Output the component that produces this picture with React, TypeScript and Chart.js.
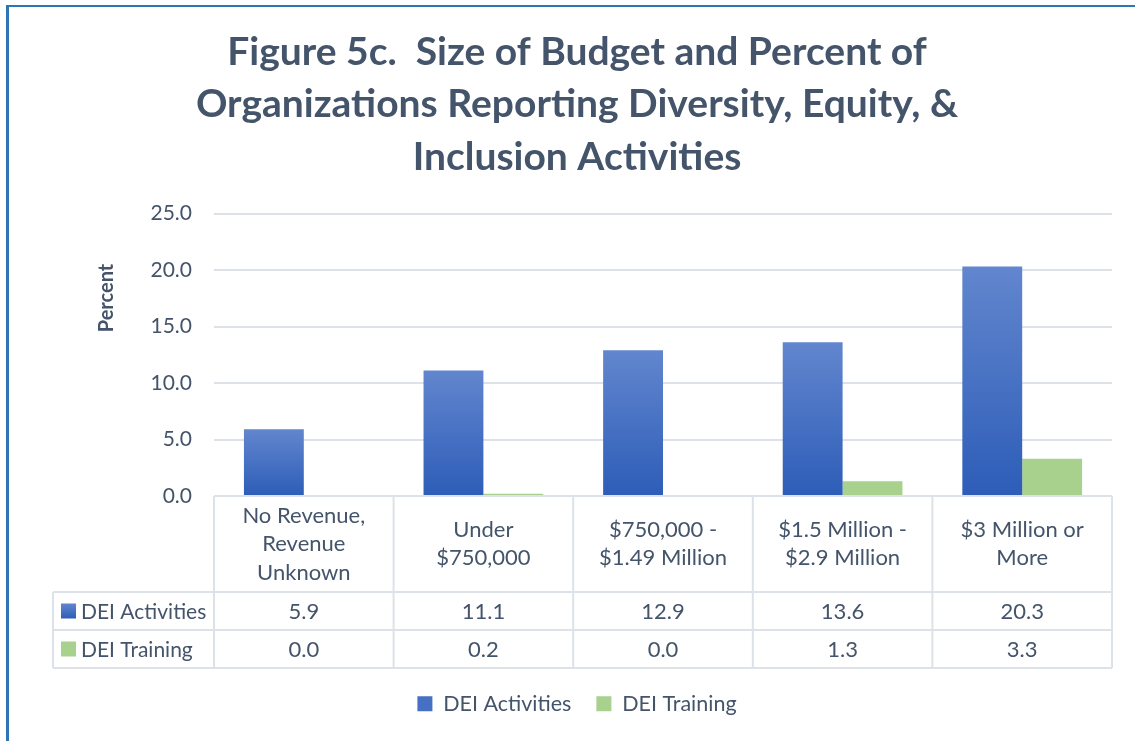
import React, { useEffect, useRef } from "react";
import { Chart, registerables } from "chart.js";

Chart.register(...registerables);

// ---- data ----
const titleLines: string[] = [
  "Figure 5c.  Size of Budget and Percent of",
  "Organizations Reporting Diversity, Equity, &",
  "Inclusion Activities",
];
const categories: string[][] = [
  ["No Revenue,", "Revenue", "Unknown"],
  ["Under", "$750,000"],
  ["$750,000 -", "$1.49 Million"],
  ["$1.5 Million -", "$2.9 Million"],
  ["$3 Million or", "More"],
];
const seriesNames: string[] = ["DEI Activities", "DEI Training"];
const deiActivities: number[] = [5.9, 11.1, 12.9, 13.6, 20.3];
const deiTraining: number[] = [0.0, 0.2, 0.0, 1.3, 3.3];
const yAxisTitle = "Percent";
const yMin = 0;
const yMax = 25;
const yStep = 5;

// ---- styles ----
const TEXT = "#44546A";
const LINE = "#DDE1E8";
const BLUE_TOP = "#6286CE";
const BLUE_BOT = "#2D5DB8";
const BLUE_SOLID = "#4570C4";
const GREEN = "#A9D18E";
const FONT = "Lato";

function blueGradient(ctx: CanvasRenderingContext2D, top: number, bottom: number) {
  const g = ctx.createLinearGradient(0, top, 0, bottom);
  g.addColorStop(0, BLUE_TOP);
  g.addColorStop(1, BLUE_BOT);
  return g;
}

const tablePlugin = {
  id: "dataTable",
  afterDraw(chart: any) {
    const { ctx, chartArea, scales } = chart;
    const x = scales.x;
    const left = chartArea.left;
    const right = chartArea.right;
    const top = chartArea.bottom;
    const headerH = 96;
    const rowH = 38;
    const tableLeft = 53;
    const n = categories.length;
    const colW = (right - left) / n;
    const r1 = top + headerH;
    const r2 = r1 + rowH;
    const r3 = r2 + rowH;

    ctx.save();
    // lines
    ctx.strokeStyle = LINE;
    ctx.lineWidth = 2;
    ctx.beginPath();
    ctx.moveTo(left, top);
    ctx.lineTo(right, top);
    [r1, r2, r3].forEach((yy) => {
      ctx.moveTo(tableLeft, yy);
      ctx.lineTo(right, yy);
    });
    ctx.moveTo(tableLeft, r1);
    ctx.lineTo(tableLeft, r3);
    for (let i = 0; i <= n; i++) {
      const xx = left + i * colW;
      ctx.moveTo(xx, top);
      ctx.lineTo(xx, r3);
    }
    ctx.stroke();

    // header text
    ctx.fillStyle = TEXT;
    ctx.font = `22px ${FONT}`;
    ctx.textAlign = "center";
    ctx.textBaseline = "middle";
    const hc = top + headerH / 2;
    const lh = 28.5;
    categories.forEach((lines, i) => {
      const cx = x.getPixelForValue(i);
      lines.forEach((t, j) => {
        ctx.fillText(t, cx, hc + (j - (lines.length - 1) / 2) * lh);
      });
    });

    // values
    const series = [deiActivities, deiTraining];
    const rowCenters = [r1 + rowH / 2, r2 + rowH / 2];
    series.forEach((vals, s) => {
      vals.forEach((v, i) => {
        ctx.fillText(v.toFixed(1), x.getPixelForValue(i), rowCenters[s] + 1);
      });
    });

    // row headers
    ctx.textAlign = "left";
    ctx.font = `21px ${FONT}`;
    seriesNames.forEach((name, s) => {
      const cy = rowCenters[s];
      const bx = 61;
      const by = cy - 7.5;
      ctx.fillStyle = s === 0 ? blueGradient(ctx, by, by + 15) : GREEN;
      ctx.fillRect(bx, by, 15, 15);
      ctx.fillStyle = TEXT;
      ctx.fillText(name, 81, cy + 1);
    });

    // y axis title
    ctx.save();
    ctx.translate(107, 298);
    ctx.rotate(-Math.PI / 2);
    ctx.font = `bold 20px ${FONT}`;
    ctx.textAlign = "center";
    ctx.textBaseline = "middle";
    ctx.fillStyle = TEXT;
    ctx.fillText(yAxisTitle, 0, 0);
    ctx.restore();

    ctx.restore();
  },
};

export default function App() {
  const canvasRef = useRef<HTMLCanvasElement | null>(null);

  useEffect(() => {
    const canvas = canvasRef.current;
    if (!canvas) return;
    const barBlue = (c: any) => {
      const chart = c.chart;
      if (!chart.chartArea || c.type !== "data" || !chart.scales.y) return BLUE_SOLID;
      const y = chart.scales.y;
      const t = y.getPixelForValue(c.parsed ? c.parsed.y : deiActivities[c.dataIndex]);
      const b = y.getPixelForValue(0);
      if (!isFinite(t) || !isFinite(b) || b - t < 1) return BLUE_SOLID;
      return blueGradient(chart.ctx, t, b);
    };
    const chart = new Chart(canvas, {
      type: "bar",
      data: {
        labels: categories.map((c) => c.join(" ")),
        datasets: [
          {
            label: seriesNames[0],
            data: deiActivities,
            backgroundColor: barBlue,
            borderWidth: 0,
            categoryPercentage: 2 / 3,
            barPercentage: 1,
          },
          {
            label: seriesNames[1],
            data: deiTraining,
            backgroundColor: GREEN,
            borderWidth: 0,
            categoryPercentage: 2 / 3,
            barPercentage: 1,
          },
        ],
      },
      options: {
        responsive: false,
        animation: false,
        layout: { padding: { top: 0, left: 42, right: 23, bottom: 16.5 } },
        plugins: {
          title: {
            display: true,
            text: titleLines,
            color: TEXT,
            font: { family: FONT, size: 39, weight: "bold", lineHeight: 52.5 / 39 },
            padding: { top: 26, bottom: 30 },
          },
          legend: {
            position: "bottom",
            labels: {
              color: TEXT,
              font: { family: FONT, size: 21.5 },
              boxWidth: 15,
              boxHeight: 15,
              padding: 25,
              generateLabels: () =>
                seriesNames.map((name, i) => ({
                  text: name,
                  fillStyle: i === 0 ? BLUE_SOLID : GREEN,
                  strokeStyle: "rgba(0,0,0,0)",
                  lineWidth: 0,
                  hidden: false,
                  datasetIndex: i,
                  fontColor: TEXT,
                })),
            },
          },
          tooltip: { enabled: false },
        },
        scales: {
          x: {
            display: true,
            grid: { display: false },
            border: { display: false },
            ticks: { display: false },
            afterFit: (s: any) => {
              s.height = 172;
            },
          },
          y: {
            min: yMin,
            max: yMax,
            ticks: {
              stepSize: yStep,
              color: TEXT,
              font: { family: FONT, size: 21 },
              padding: 22,
              callback: (v: any) => Number(v).toFixed(1),
            },
            grid: { color: LINE, lineWidth: 2, drawTicks: false },
            border: { display: false },
            afterFit: (s: any) => {
              s.width = 172;
            },
          },
        },
      },
      plugins: [tablePlugin],
    });
    return () => chart.destroy();
  }, []);

  return (
    <div style={{ position: "absolute", left: 0, top: 0, width: 1135, height: 741, background: "#fff", overflow: "hidden" }}>
      <canvas ref={canvasRef} width={1135} height={741} style={{ position: "absolute", left: 0, top: 0, width: 1135, height: 741 }} />
      <div
        style={{
          position: "absolute",
          left: 6,
          top: 5,
          width: 1129,
          height: 736,
          boxSizing: "border-box",
          borderLeft: "3px solid #2E75B6",
          borderTop: "2.5px solid #2E75B6",
          pointerEvents: "none",
        }}
      />
    </div>
  );
}
